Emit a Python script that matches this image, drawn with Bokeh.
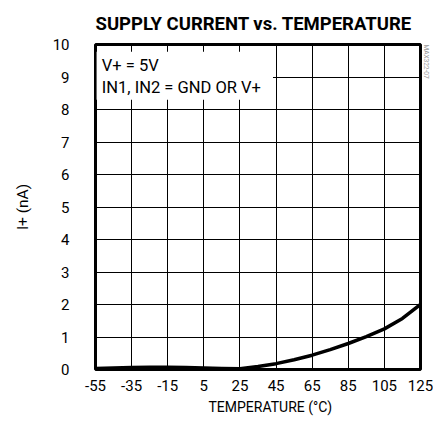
from bokeh.plotting import figure
from bokeh.models import FixedTicker, BoxAnnotation, Label, Title
from bokeh.embed import file_html
from bokeh.resources import INLINE

# Data
temperature = [-55, -45, -35, -25, -15, -5, 5, 15, 25, 35, 45, 55, 65, 75, 85, 95, 105, 115, 125]
supply_current = [0.03, 0.05, 0.06, 0.07, 0.07, 0.06, 0.05, 0.03, 0.02, 0.09, 0.18, 0.3, 0.44, 0.61, 0.8, 1.01, 1.25, 1.57, 2.0]
x_ticks = [-55, -35, -15, 5, 25, 45, 65, 85, 105, 125]
y_ticks = [0, 1, 2, 3, 4, 5, 6, 7, 8, 9, 10]

FONT = "Roboto"

p = figure(width=433, height=420, x_range=(-55, 125), y_range=(0, 10),
           output_backend="svg", toolbar_location=None,
           min_border_left=95, min_border_right=12, min_border_top=43, min_border_bottom=51)

p.title = Title(text="SUPPLY CURRENT vs. TEMPERATURE", align="left",
                text_font=FONT, text_font_size="18.5px", text_font_style="bold",
                text_line_height=1.0,
                text_color="black", offset=0, standoff=20)

p.outline_line_color = "black"
p.outline_line_width = 3
p.outline_line_alpha = 1

p.xaxis.ticker = FixedTicker(ticks=x_ticks)
p.yaxis.ticker = FixedTicker(ticks=y_ticks)
for ax in (p.xaxis[0], p.yaxis[0]):
    ax.axis_line_color = None
    ax.major_tick_line_color = None
    ax.minor_tick_line_color = None
    ax.major_tick_out = 0
    ax.major_tick_in = 0
    ax.minor_tick_out = 0
    ax.minor_tick_in = 0
    ax.major_label_text_font = FONT
    ax.major_label_text_font_size = "15px"
    ax.major_label_text_color = "black"
    ax.axis_label_text_font = FONT
    ax.axis_label_text_font_style = "normal"
    ax.axis_label_text_color = "black"

p.xaxis.major_label_overrides = {t: str(t) for t in x_ticks}
p.xaxis.major_label_standoff = 10
p.yaxis.axis_label = "I+ (nA)"
p.yaxis.axis_label_text_font_size = "15.5px"
p.yaxis.major_label_standoff = 26
p.yaxis.axis_label_standoff = 18

p.xgrid.ticker = FixedTicker(ticks=x_ticks)
p.ygrid.ticker = FixedTicker(ticks=y_ticks)
for g in (p.xgrid[0], p.ygrid[0]):
    g.grid_line_color = "black"
    g.grid_line_alpha = 1
    g.grid_line_width = 1

p.line(temperature, supply_current, line_color="black", line_width=3.5, line_join="round")

box = BoxAnnotation(left=-54.4, right=43.3, bottom=8.3, top=9.78,
                    fill_color="white", fill_alpha=1, line_color=None)
p.add_layout(box)

p.add_layout(Label(x=-51.5, y=9.36, text="V+ = 5V", text_font=FONT, text_font_size="16.5px",
                   text_color="black", text_baseline="middle"))
p.add_layout(Label(x=-51.5, y=8.68, text="IN1, IN2 = GND OR V+", text_font=FONT, text_font_size="16.5px",
                   text_color="black", text_baseline="middle"))

# x-axis title, set a little right of centre as in the reference
p.add_layout(Title(text="TEMPERATURE (°C)", align="left", offset=113, standoff=6,
                   text_font=FONT, text_font_size="14px", text_font_style="normal",
                   text_color="black"), "below")

# small figure code at the right edge, near the top
p.add_layout(Title(text="MAX322-07", align="left", offset=0, standoff=3,
                   text_font=FONT, text_font_size="6.5px", text_font_style="normal",
                   text_color="#9a9a9a"), "right")

open("out.html", "w").write(file_html(p, INLINE))
